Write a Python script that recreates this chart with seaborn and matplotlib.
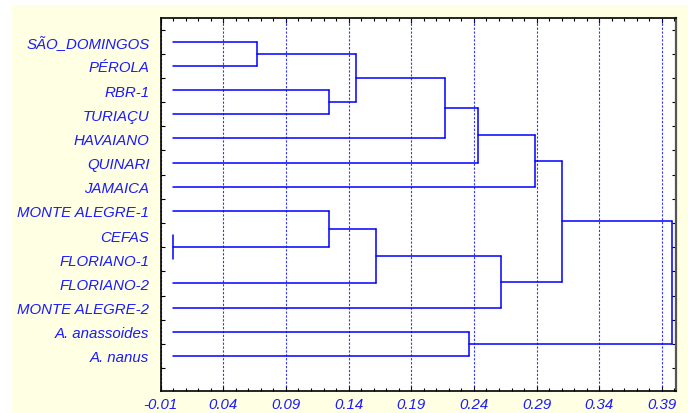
import matplotlib
matplotlib.use('Agg')
import matplotlib.pyplot as plt
from matplotlib.patches import Rectangle
from matplotlib.ticker import MultipleLocator, FixedLocator, FormatStrFormatter
import seaborn as sns
import pandas as pd
import numpy as np

# leaves in display order (top to bottom)
leaves = ["SÃO_DOMINGOS", "PÉROLA", "RBR-1", "TURIAÇU", "HAVAIANO", "QUINARI",
          "JAMAICA", "MONTE ALEGRE-1", "CEFAS", "FLORIANO-1", "FLORIANO-2",
          "MONTE ALEGRE-2", "A. anassoides", "A. nanus"]

# merges: child a, child b, linkage distance (new node ids start at len(leaves))
merge_a = [0, 2, 14, 16, 17, 18, 8, 7, 21, 22, 19, 12, 24]
merge_b = [1, 3, 15, 4, 5, 6, 9, 20, 10, 11, 23, 13, 25]
merge_h = [0.067, 0.124, 0.146, 0.217, 0.243, 0.289, 0.0, 0.124, 0.162, 0.262,
           0.310, 0.236, 0.398]

xticks = [-0.01, 0.04, 0.09, 0.14, 0.19, 0.24, 0.29, 0.34, 0.39]

blue = "#0000ff"
text_blue = "#1a1aff"

sns.set_style("white")
plt.rcParams['font.family'] = ['Liberation Sans', 'DejaVu Sans']
plt.rcParams['font.style'] = 'italic'

# build segments of the tree
node_y = {i: float(i) for i in range(len(leaves))}
node_h = {i: 0.0 for i in range(len(leaves))}
rows = []
seg = 0
for k, (a, b, h) in enumerate(zip(merge_a, merge_b, merge_h)):
    nid = len(leaves) + k
    for c in (a, b):
        if node_h[c] != h:
            rows.append((seg, node_h[c], node_y[c])); rows.append((seg, h, node_y[c])); seg += 1
    rows.append((seg, h, node_y[a])); rows.append((seg, h, node_y[b])); seg += 1
    node_y[nid] = (node_y[a] + node_y[b]) / 2
    node_h[nid] = h
segs = pd.DataFrame(rows, columns=["seg", "dist", "pos"])

fig = plt.figure(figsize=(6.88, 4.14), dpi=100)
fig.patch.set_facecolor("white")
fig.add_artist(Rectangle((12 / 688, 0), 676 / 688, 408 / 414, transform=fig.transFigure,
                         facecolor="#ffffe3", edgecolor="none", zorder=-1))
ax = fig.add_axes([0.2334, 0.0531, 0.7487, 0.9022])
ax.set_facecolor("white")

for xt in xticks:
    ax.axvline(xt, color=blue, lw=0.8, ls=(0, (2, 1.5)), alpha=0.8, zorder=1)

sns.lineplot(data=segs, x="dist", y="pos", units="seg", estimator=None, sort=False,
             color=blue, lw=1.1, ax=ax, zorder=3)

ax.set_xlim(-0.01, 0.401)
ax.set_ylim(14.45, -1.0)
ax.set_xlabel("")
ax.set_ylabel("")

ax.xaxis.set_major_locator(FixedLocator(xticks))
ax.xaxis.set_major_formatter(FormatStrFormatter("%.2f"))
ax.xaxis.set_minor_locator(MultipleLocator(0.01))
ax.tick_params(axis="x", which="both", direction="in", top=True, bottom=True,
               colors="black", labelcolor=text_blue, labelsize=10.8, pad=4)
ax.tick_params(axis="x", which="major", length=3.5, width=0.8)
ax.tick_params(axis="x", which="minor", length=2.5, width=0.8)

ax.yaxis.set_major_locator(FixedLocator(range(len(leaves))))
ax.set_yticklabels(leaves)
ax.yaxis.set_minor_locator(FixedLocator(np.arange(-0.5, len(leaves), 1.0)))
ax.tick_params(axis="y", which="major", length=0, labelcolor=text_blue, labelsize=10.8, pad=8)
ax.tick_params(axis="y", which="minor", direction="in", left=True, right=True,
               length=3, width=0.8, colors="black")

for side in ["top", "left", "bottom"]:
    ax.spines[side].set_color("black")
    ax.spines[side].set_linewidth(1.2)
ax.spines["right"].set_color("#555555")
ax.spines["right"].set_linewidth(1.6)

fig.savefig("out.png", dpi=100)
